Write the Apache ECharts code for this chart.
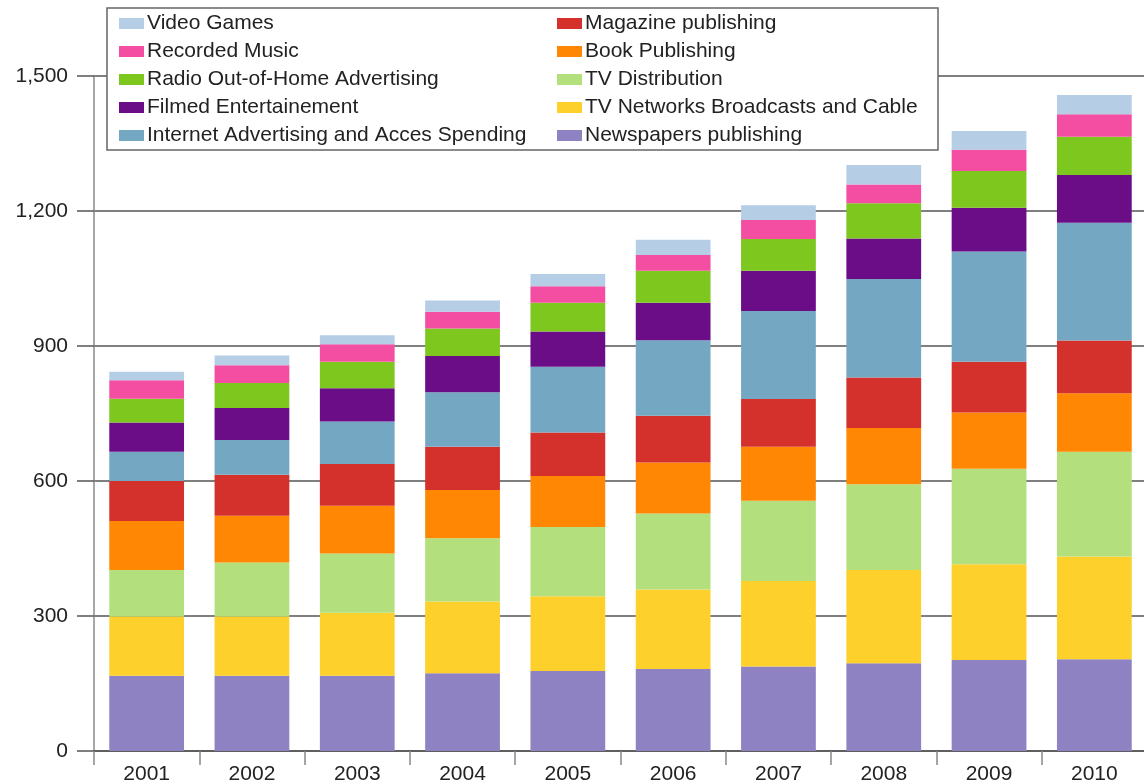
<!DOCTYPE html>
<html>
<head>
<meta charset="utf-8">
<script src="https://cdn.jsdelivr.net/npm/echarts@6/dist/echarts.min.js"></script>
<style>
html,body{margin:0;padding:0;background:#fff;}
#chart{width:1144px;height:781px;}
</style>
</head>
<body>
<div id="chart"></div>
<script>
const years = ['2001','2002','2003','2004','2005','2006','2007','2008','2009','2010'];
const yTicks = [0, 300, 600, 900, 1200, 1500];

const newspapers   = [167, 167, 167, 173, 178, 182, 188, 195, 202, 204];
const tvNetworks   = [132, 132, 140, 159, 166, 177, 190, 207, 213, 228];
const tvDistrib    = [103, 120, 132, 141, 154, 169, 178, 191, 212, 233];
const bookPub      = [109, 104, 106, 107, 113, 113, 120, 125, 125, 130];
const magazinePub  = [ 89,  91,  93,  96,  97, 104, 106, 112, 113, 117];
const internet     = [ 65,  77,  94, 121, 146, 168, 196, 219, 245, 262];
const filmed       = [ 65,  71,  74,  81,  78,  83,  89,  90,  97, 106];
const radio        = [ 53,  56,  59,  61,  64,  71,  71,  78,  82,  85];
const music        = [ 41,  39,  39,  37,  37,  35,  42,  42,  47,  50];
const videoGames   = [ 19,  22,  20,  25,  27,  34,  33,  43,  42,  43];

const seriesDefs = [
  {name:'Newspapers publishing', data:newspapers, color:'#8f82c3'},
  {name:'TV Networks Broadcasts and Cable', data:tvNetworks, color:'#fdd02b'},
  {name:'TV Distribution', data:tvDistrib, color:'#b3e07c'},
  {name:'Book Publishing', data:bookPub, color:'#ff8703'},
  {name:'Magazine publishing', data:magazinePub, color:'#d4302c'},
  {name:'Internet Advertising and Acces Spending', data:internet, color:'#74a7c1'},
  {name:'Filmed Entertainement', data:filmed, color:'#6c0d88'},
  {name:'Radio Out-of-Home Advertising', data:radio, color:'#7dc71e'},
  {name:'Recorded Music', data:music, color:'#f44ea3'},
  {name:'Video Games', data:videoGames, color:'#b5cee6'}
];

const legendLeft = ['Video Games','Recorded Music','Radio Out-of-Home Advertising','Filmed Entertainement','Internet Advertising and Acces Spending'];
const legendRight = ['Magazine publishing','Book Publishing','TV Distribution','TV Networks Broadcasts and Cable','Newspapers publishing'];

const FONT = '"Liberation Sans", Arial, sans-serif';
const legendCommon = {
  orient:'vertical', top:13, padding:0, itemWidth:25, itemHeight:11, itemGap:7,
  icon:'rect', z:10, selectedMode:false,
  textStyle:{fontFamily:FONT, fontSize:21, lineHeight:21, color:'#222', padding:[0,0,0,-2]}
};

const chart = echarts.init(document.getElementById('chart'), null, {renderer:'canvas'});
chart.setOption({
  animation:false,
  backgroundColor:'#ffffff',
  grid:{left:94, right:-3, top:76, bottom:30, containLabel:false, outerBoundsMode:'none'},
  legend:[
    Object.assign({}, legendCommon, {left:119, data:legendLeft}),
    Object.assign({}, legendCommon, {left:557, data:legendRight})
  ],
  graphic:[{
    type:'rect', z:5, silent:true,
    shape:{x:107, y:8, width:831, height:142},
    style:{fill:'#ffffff', stroke:'#666', lineWidth:1.5}
  }],
  xAxis:{
    type:'category', data:years,
    axisLine:{show:true, lineStyle:{color:'#555', width:1.5}},
    axisTick:{show:true, alignWithLabel:false, length:14, lineStyle:{color:'#888', width:1.5}},
    axisLabel:{fontFamily:FONT, fontSize:21, color:'#222', margin:13}
  },
  yAxis:{
    type:'value', min:0, max:1500, interval:300,
    axisLine:{show:true, lineStyle:{color:'#8a8a8a', width:1.5}},
    axisTick:{show:true, length:17, lineStyle:{color:'#555', width:1.5}},
    splitLine:{show:true, lineStyle:{color:'#555', width:1.5}},
    axisLabel:{fontFamily:FONT, fontSize:21, color:'#222', margin:26,
      formatter:function(v){ return v.toLocaleString('en-US'); }}
  },
  series: seriesDefs.map(s => ({
    name:s.name, type:'bar', stack:'total', data:s.data,
    barCategoryGap:'29%',
    itemStyle:{color:s.color},
    emphasis:{disabled:true}
  }))
});
</script>
</body>
</html>
